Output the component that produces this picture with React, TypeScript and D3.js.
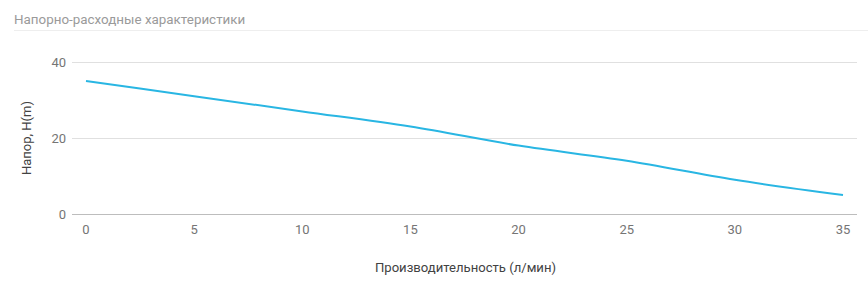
import React from "react";
import * as d3 from "d3";

const flow = [0, 5, 10, 15, 20, 25, 30, 35];
const head = [35, 31, 27, 23, 18, 14, 9, 5];
const xTicks = [0, 5, 10, 15, 20, 25, 30, 35];
const yTicks = [0, 20, 40];
const title = "Напорно-расходные характеристики";
const xTitle = "Производительность (л/мин)";
const yTitle = "Напор, H(m)";

const W = 868;
const H = 283;
const font = "Roboto, 'Noto Sans', sans-serif";

export default function App() {
  const x = d3.scaleLinear().domain([0, 35]).range([86, 843]);
  const y = d3.scaleLinear().domain([0, 40]).range([214, 62]);
  const gridX0 = 72;
  const gridX1 = 857;
  const line = d3
    .line<number>()
    .x((_, i) => x(flow[i]))
    .y((d) => y(d))
    .curve(d3.curveMonotoneX);

  return (
    <svg width={W} height={H} style={{ position: "absolute", left: 0, top: 0, background: "#fff" }} fontFamily={font}>
      <text x={14} y={24} fontSize={13.4} fill="#9a9a9a">{title}</text>
      <line x1={14} x2={W} y1={30.5} y2={30.5} stroke="#eeeeee" strokeWidth={1} />
      {yTicks.map((t) => (
        <g key={t}>
          <line x1={gridX0} x2={gridX1} y1={Math.round(y(t)) + 0.5} y2={Math.round(y(t)) + 0.5}
            stroke={t === 0 ? "#bdbdbd" : "#e0e0e0"} strokeWidth={1} />
          <text x={66} y={y(t)} dy="0.35em" textAnchor="end" fontSize={13} fill="#757575">{t}</text>
        </g>
      ))}
      {xTicks.map((t) => (
        <text key={t} x={x(t)} y={234} textAnchor="middle" fontSize={13} fill="#757575">{t}</text>
      ))}
      <path d={line(head) || ""} fill="none" stroke="#29b6e3" strokeWidth={2} />
      <text x={(gridX0 + gridX1) / 2 + 1} y={272} textAnchor="middle" fontSize={13.1} fill="#424242">{xTitle}</text>
      <text transform={`translate(31,${y(20)}) rotate(-90)`} textAnchor="middle" fontSize={13} fill="#424242">{yTitle}</text>
    </svg>
  );
}
